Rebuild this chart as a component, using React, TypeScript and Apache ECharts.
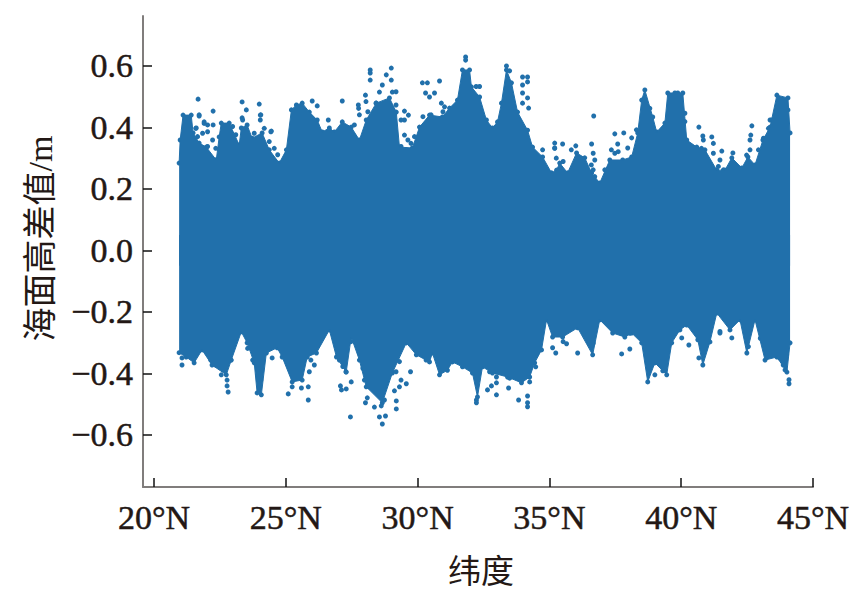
import React, { useEffect, useRef } from "react";
import * as echarts from "echarts";

const xTicks = [20, 25, 30, 35, 40, 45];
const yTicks = [-0.6, -0.4, -0.2, 0, 0.2, 0.4, 0.6];

const upperEdge: number[][] = [
  [20.95,.284],[20.99,.359],[21.10,.440],[21.41,.440],[21.48,.382],[21.71,.349],[21.98,.336],[22.36,.294],[22.47,.369],[22.55,.414],
  [22.85,.414],[23.23,.343],[23.31,.398],[23.53,.408],[23.72,.365],[24.10,.382],[24.37,.327],[24.75,.284],[25.02,.327],[25.21,.457],
  [25.40,.473],[25.62,.479],[25.89,.450],[26.19,.424],[26.38,.385],[26.65,.398],[26.84,.385],[27.14,.418],[27.48,.401],[27.79,.359],
  [28.05,.424],[28.43,.479],[28.93,.496],[29.19,.450],[29.31,.336],[29.80,.333],[30.07,.401],[30.45,.440],[30.94,.434],[31.21,.463],
  [31.51,.489],[31.70,.587],[31.97,.587],[32.04,.532],[32.35,.499],[32.61,.424],[32.84,.398],[33.03,.418],[33.18,.479],[33.37,.587],
  [33.56,.545],[33.79,.450],[34.17,.391],[34.36,.336],[34.74,.304],[35.08,.252],[35.27,.261],[35.39,.284],[35.69,.252],[36.03,.317],
  [36.34,.301],[36.60,.252],[36.91,.219],[37.29,.294],[37.78,.294],[38.12,.304],[38.35,.382],[38.50,.489],[38.62,.522],[38.92,.434],
  [39.07,.385],[39.38,.414],[39.49,.512],[39.76,.512],[39.87,.512],[40.06,.512],[40.21,.359],[40.59,.336],[40.90,.327],[41.35,.261],
  [41.66,.261],[41.92,.301],[42.30,.268],[42.53,.304],[42.80,.278],[43.10,.359],[43.37,.401],[43.63,.505],[44.05,.496],[44.13,.382],
];

const lowerEdge: number[][] = [
  [20.95,-.333],[21.22,-.347],[21.52,-.366],[21.82,-.324],[22.20,-.373],[22.74,-.405],[22.93,-.357],[23.31,-.265],[23.53,-.301],[23.80,-.366],
  [23.91,-.464],[24.07,-.470],[24.26,-.334],[24.67,-.317],[24.86,-.347],[25.24,-.428],[25.62,-.422],[25.81,-.347],[26.16,-.334],[26.65,-.259],
  [26.92,-.347],[27.29,-.396],[27.48,-.282],[27.79,-.357],[28.05,-.444],[28.66,-.496],[29.04,-.399],[29.57,-.301],[29.95,-.340],[30.45,-.363],
  [30.56,-.334],[30.83,-.405],[31.13,-.390],[31.32,-.363],[31.70,-.379],[32.08,-.399],[32.27,-.477],[32.46,-.379],[32.84,-.399],[33.41,-.412],
  [33.94,-.431],[34.25,-.412],[34.44,-.366],[34.70,-.324],[34.89,-.226],[35.12,-.282],[35.50,-.282],[36.07,-.252],[36.64,-.340],[36.91,-.226],
  [37.40,-.269],[37.86,-.282],[38.12,-.269],[38.50,-.301],[38.73,-.428],[39.00,-.366],[39.45,-.405],[39.64,-.301],[39.95,-.259],[40.21,-.243],
  [40.63,-.291],[40.82,-.373],[41.09,-.298],[41.35,-.204],[41.85,-.259],[42.23,-.226],[42.49,-.334],[42.80,-.226],[43.18,-.357],[43.63,-.347],
  [44.01,-.396],[44.13,-.301],
];

const upperStrays: number[][] = [
  [21.67,.492],[21.71,.437],[22.24,.453],[22.24,.408],[23.34,.483],[23.50,.457],[23.34,.431],[23.99,.476],[24.03,.440],[24.03,.424],
  [24.45,.388],[21.90,.418],[21.60,.398],[26.00,.486],[26.19,.470],[27.14,.486],[26.61,.424],[28.20,.587],[28.20,.577],[28.20,.554],
  [29.00,.593],[28.81,.571],[29.00,.554],[28.66,.538],[29.04,.515],[28.55,.515],[28.02,.505],[27.75,.473],[29.50,.453],[29.65,.440],
  [30.18,.545],[30.37,.545],[30.83,.551],[30.30,.512],[30.45,.499],[30.64,.512],[30.90,.479],[31.02,.467],[31.82,.629],[31.82,.619],
  [33.37,.600],[33.49,.584],[33.98,.564],[34.17,.564],[33.98,.538],[34.17,.548],[33.98,.512],[34.17,.496],[33.98,.479],[34.21,.463],
  [34.74,.327],[35.20,.349],[35.20,.333],[36.68,.437],[35.50,.346],[36.00,.340],[36.60,.346],[37.48,.379],[37.82,.382],[37.59,.346],
  [37.97,.333],[38.12,.366],[40.67,.401],[41.16,.369],[40.82,.372],[42.68,.405],[42.64,.375],[42.61,.359],[41.96,.317],[41.54,.323],
  [44.05,.457],[43.37,.424],
];

const upperFringe: number[][] = [
  [21.58,.397],[21.71,.441],[21.90,.413],[22.03,.408],[21.65,.370],[21.84,.381],[22.03,.386],[22.22,.359],[21.71,.316],[22.03,.338],
  [22.34,.332],[22.34,.294],[22.98,.403],[23.10,.376],[23.36,.424],[24.05,.441],[24.18,.397],[24.43,.386],[24.37,.354],[24.56,.332],
  [24.69,.311],[23.80,.381],[27.60,.408],[27.79,.441],[27.76,.462],[28.04,.484],[28.11,.451],[28.42,.479],[29.18,.516],[29.18,.473],
  [29.50,.424],[29.37,.424],[29.50,.375],[29.63,.359],[29.37,.338],[29.56,.327],[29.63,.300],[29.69,.278],[29.88,.370],[29.75,.348],
  [27.60,.370],[27.73,.348],[27.60,.321],[30.20,.435],[30.51,.441],[30.70,.424],[30.96,.451],[30.96,.419],[32.22,.533],[32.35,.533],
  [35.20,.332],[35.26,.300],[35.52,.289],[35.83,.327],[36.66,.316],[36.72,.294],[36.59,.278],[36.66,.262],[36.72,.240],[36.47,.235],
  [36.28,.210],[36.47,.197],[37.10,.262],[37.35,.327],[37.48,.316],[37.61,.321],[37.99,.273],[37.99,.251],[37.99,.235],[38.30,.392],
  [38.81,.462],[40.14,.446],[40.14,.419],[39.89,.392],[39.70,.386],[40.84,.359],[40.77,.332],[41.22,.348],[41.22,.316],[41.47,.294],
  [41.41,.273],[41.60,.262],[42.61,.327],[42.48,.310],[42.93,.327],[43.12,.365],[43.31,.397],[43.43,.424],[43.81,.446],[43.94,.424],
  [43.50,.397],
];

const lowerStrays: number[][] = [
  [21.06,-.350],[21.06,-.373],[22.55,-.405],[22.77,-.422],[22.77,-.441],[22.81,-.461],[25.09,-.467],[25.24,-.444],[25.59,-.448],[25.85,-.444],
  [25.85,-.487],[24.48,-.350],[25.89,-.395],[27.07,-.441],[27.11,-.454],[27.29,-.451],[27.48,-.428],[27.45,-.542],[28.09,-.480],[28.02,-.496],
  [28.36,-.510],[28.62,-.506],[28.74,-.487],[28.55,-.542],[28.78,-.539],[28.66,-.565],[29.19,-.490],[29.19,-.516],[29.12,-.457],[29.31,-.444],
  [29.57,-.434],[29.73,-.395],[28.17,-.444],[28.47,-.460],[32.23,-.487],[32.23,-.496],[32.65,-.454],[32.80,-.441],[32.99,-.470],[32.99,-.431],
  [32.99,-.412],[33.45,-.448],[33.83,-.487],[34.17,-.474],[34.17,-.496],[34.17,-.509],[34.25,-.428],[34.48,-.379],[35.24,-.334],[35.12,-.317],
  [35.65,-.304],[36.07,-.334],[37.74,-.337],[38.05,-.321],[39.00,-.405],[39.30,-.392],[40.29,-.308],[40.02,-.285],[40.67,-.350],[41.47,-.269],
  [41.92,-.285],[44.09,-.421],[44.09,-.434],[43.94,-.389],
];

const lowerFringe: number[][] = [
  [21.84,-.313],[22.03,-.335],[22.15,-.357],[22.34,-.373],[22.91,-.357],[23.55,-.319],[23.74,-.357],[23.93,-.405],[24.05,-.422],[24.37,-.297],
  [24.24,-.319],[24.75,-.297],[25.45,-.270],[25.76,-.281],[25.95,-.357],[26.08,-.373],[27.03,-.357],[27.16,-.378],[27.28,-.395],[27.47,-.297],
  [27.66,-.297],[27.79,-.335],[27.92,-.384],[27.98,-.422],[28.30,-.410],[28.17,-.389],[28.93,-.384],[29.18,-.395],[29.37,-.422],[29.31,-.362],
  [29.63,-.297],[30.32,-.357],[31.72,-.340],[32.73,-.395],[32.98,-.395],[33.49,-.416],[33.62,-.389],[33.93,-.351],[34.19,-.367],[35.26,-.270],
  [35.52,-.297],[36.66,-.302],[37.73,-.270],[38.05,-.270],[38.94,-.367],[38.94,-.346],[39.32,-.340],[41.47,-.264],[42.55,-.313],[43.00,-.286],
  [43.75,-.351],[43.87,-.373],[44.00,-.340],
];

const BLUE = "#2170ab";
const INK = "#231815";
const FONT = '"Liberation Serif", "Noto Sans CJK SC", serif';

const edgeSeries = (data: number[][], origin: number) => ({
  type: "line",
  data,
  symbol: "none",
  silent: true,
  lineStyle: { color: BLUE, width: 1 },
  areaStyle: { color: BLUE, opacity: 1, origin },
});

const dotSeries = (data: number[][]) => ({
  type: "scatter",
  data,
  symbol: "circle",
  symbolSize: 5,
  silent: true,
  itemStyle: { color: BLUE, opacity: 1 },
});

const labelStyle = {
  fontFamily: FONT,
  fontSize: 34,
  color: INK,
  textBorderColor: INK,
  textBorderWidth: 0.5,
};

export default function App() {
  const ref = useRef<HTMLDivElement>(null);
  useEffect(() => {
    const chart = echarts.init(ref.current!, null, { renderer: "svg" });
    chart.setOption({
      animation: false,
      backgroundColor: "#ffffff",
      grid: { left: 143, right: 50, top: 16, bottom: 120 },
      xAxis: {
        type: "value",
        min: 19.58,
        max: 45,
        name: "纬度",
        nameLocation: "middle",
        nameGap: 68,
        nameTextStyle: { fontFamily: FONT, fontSize: 33, color: INK, padding: [0, 0, 0, 6] },
        splitLine: { show: false },
        axisLine: { show: true, onZero: false, lineStyle: { color: "#807d7c", width: 2 } },
        axisTick: { show: true, inside: true, length: 9, customValues: xTicks, lineStyle: { color: "#111", width: 1.5 } },
        axisLabel: {
          ...labelStyle,
          margin: 13,
          customValues: xTicks,
          formatter: (v: number) => `${v}°N`,
        },
      },
      yAxis: {
        type: "value",
        min: -0.77,
        max: 0.7625,
        name: "海面高差值/m",
        nameLocation: "middle",
        nameGap: 86,
        nameTextStyle: { fontFamily: FONT, fontSize: 34, color: INK, padding: [0, 0, 0, 26] },
        splitLine: { show: false },
        axisLine: { show: true, onZero: false, lineStyle: { color: "#807d7c", width: 2 } },
        axisTick: { show: true, inside: true, length: 9, customValues: yTicks, lineStyle: { color: "#111", width: 1.5 } },
        axisLabel: {
          ...labelStyle,
          margin: 10,
          customValues: yTicks,
          formatter: (v: number) => (v < 0 ? "\u2212" : "") + Math.abs(v).toFixed(1),
        },
      },
      series: [
        edgeSeries(upperEdge, -0.05),
        edgeSeries(lowerEdge, 0.05),
        dotSeries(upperEdge),
        dotSeries(lowerEdge),
        dotSeries(upperStrays),
        dotSeries(lowerStrays),
        dotSeries(upperFringe),
        dotSeries(lowerFringe),
      ],
    });
    return () => chart.dispose();
  }, []);
  return <div ref={ref} style={{ position: "absolute", left: 0, top: 0, width: 863, height: 607 }} />;
}
